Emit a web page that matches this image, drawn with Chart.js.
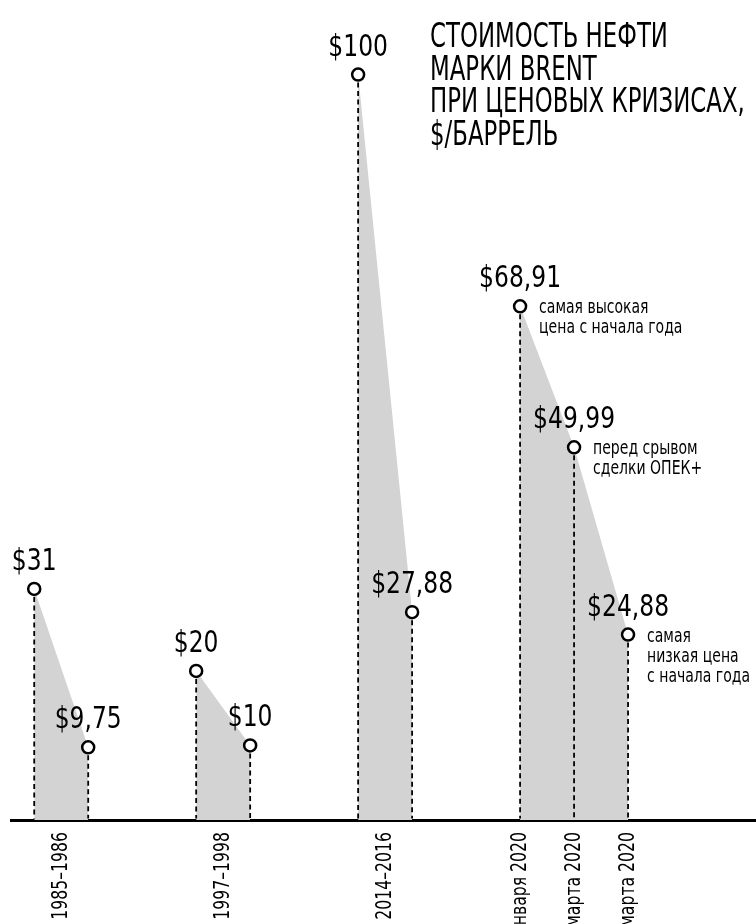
<!DOCTYPE html>
<html>
<head>
<meta charset="utf-8">
<script src="https://cdn.jsdelivr.net/npm/chart.js@4"></script>
<style>
  body { margin: 0; background: #fff; }
  #wrap { width: 756px; height: 924px; position: relative; }
</style>
</head>
<body>
<div id="wrap"><canvas id="oil-chart"></canvas></div>
<script>
const FONT = "'DejaVu Sans Condensed', 'DejaVu Sans', sans-serif";

// position of each point along the timeline, in slots
const slots1985 = [0, 1];
const slots1997 = [3, 4];
const slots2014 = [6, 7];
const slots2020 = [9, 10, 11];

// Brent price, $/barrel
const prices1985 = [31, 9.75];
const prices1997 = [20, 10];
const prices2014 = [100, 27.88];
const prices2020 = [68.91, 49.99, 24.88];

const tickSlots = [0.5, 3.5, 6.5, 9, 10, 11];
const tickLabels = ['1985–1986', '1997–1998', '2014–2016', '6 января 2020', '6 марта 2020', '18 марта 2020'];

const notes2020 = [
  ['самая высокая', 'цена с начала года'],
  ['перед срывом', 'сделки ОПЕК+'],
  ['самая', 'низкая цена', 'с начала года']
];

const titleLines = ['СТОИМОСТЬ НЕФТИ', 'МАРКИ BRENT', 'ПРИ ЦЕНОВЫХ КРИЗИСАХ,', '$/БАРРЕЛЬ'];

const toPoints = (xs, ys) => xs.map((x, i) => ({x: x, y: ys[i]}));
const priceText = v => '$' + String(v).replace('.', ',');

const crisisSet = function(xs, ys){
  return {
    data: toPoints(xs, ys),
    fill: 'origin',
    backgroundColor: '#d3d3d3',
    borderColor: 'rgba(0,0,0,0)',
    borderWidth: 0,
    tension: 0,
    pointRadius: 6,
    pointBorderWidth: 2.5,
    pointBorderColor: '#000',
    pointBackgroundColor: '#fff',
    clip: false
  }
}

// text squeezed horizontally, the font on hand is wider than the original one
const drawNarrow = function(ctx, text, x, y, font, squeeze, align, angle){
  ctx.save();
  ctx.translate(x, y);
  if(angle){
    ctx.rotate(angle);
  }
  ctx.scale(squeeze, 1);
  ctx.font = font;
  ctx.textAlign = align;
  ctx.fillText(text, 0, 0);
  ctx.restore();
}

const labelPlugin = {
  id: 'priceLabels',
  afterDatasetsDraw(chart){
    const ctx = chart.ctx;
    const bottom = chart.chartArea.bottom;
    ctx.save();
    // dashed drops from every point to the axis
    ctx.strokeStyle = '#000';
    ctx.lineWidth = 1.8;
    ctx.setLineDash([5, 3.5]);
    chart.data.datasets.forEach((ds, i) => {
      chart.getDatasetMeta(i).data.forEach(pt => {
        ctx.beginPath();
        ctx.moveTo(pt.x, pt.y + 8);
        ctx.lineTo(pt.x, bottom - 1.5);
        ctx.stroke();
      });
    });
    ctx.setLineDash([]);

    ctx.fillStyle = '#000';
    ctx.textBaseline = 'alphabetic';
    chart.data.datasets.forEach((ds, i) => {
      chart.getDatasetMeta(i).data.forEach((pt, j) => {
        drawNarrow(ctx, priceText(ds.data[j].y), pt.x, pt.y - 19, '31px ' + FONT, 0.84, 'center');
        if(i == 3){
          notes2020[j].forEach((line, k) => {
            drawNarrow(ctx, line, pt.x + 19, pt.y + 7 + k * 20, '19px ' + FONT, 0.82, 'left');
          });
        }
      });
    });

    // category labels under the axis, rotated, cut by the bottom edge
    const xScale = chart.scales.x;
    ctx.textBaseline = 'middle';
    tickLabels.forEach((label, k) => {
      drawNarrow(ctx, label, xScale.getPixelForValue(tickSlots[k]), bottom + 12, '21px ' + FONT, 0.83, 'right', -Math.PI / 2);
    });

    // title
    ctx.textBaseline = 'alphabetic';
    titleLines.forEach((line, k) => {
      drawNarrow(ctx, line, 430, 47 + k * 32.5, '33px ' + FONT, 0.77, 'left');
    });
    ctx.restore();
  }
}

Chart.defaults.font.family = FONT;
Chart.defaults.color = '#000';

new Chart(document.getElementById('oil-chart'), {
  type: 'line',
  data: {
    datasets: [
      crisisSet(slots1985, prices1985),
      crisisSet(slots1997, prices1997),
      crisisSet(slots2014, prices2014),
      crisisSet(slots2020, prices2020)
    ]
  },
  options: {
    responsive: true,
    maintainAspectRatio: false,
    animation: false,
    layout: { autoPadding: false, padding: { left: 11, right: 0, top: 0, bottom: 0 } },
    plugins: { legend: { display: false }, tooltip: { enabled: false } },
    scales: {
      x: {
        type: 'linear',
        min: -0.43,
        max: 13.37,
        grid: { display: false, drawTicks: false },
        border: { display: true, color: '#000', width: 3 },
        afterFit: axis => { axis.height = 104; axis.paddingLeft = 0; axis.paddingRight = 0; },
        ticks: { display: false }
      },
      y: {
        display: false,
        min: 0,
        max: 110
      }
    }
  },
  plugins: [labelPlugin]
});
</script>
</body>
</html>
